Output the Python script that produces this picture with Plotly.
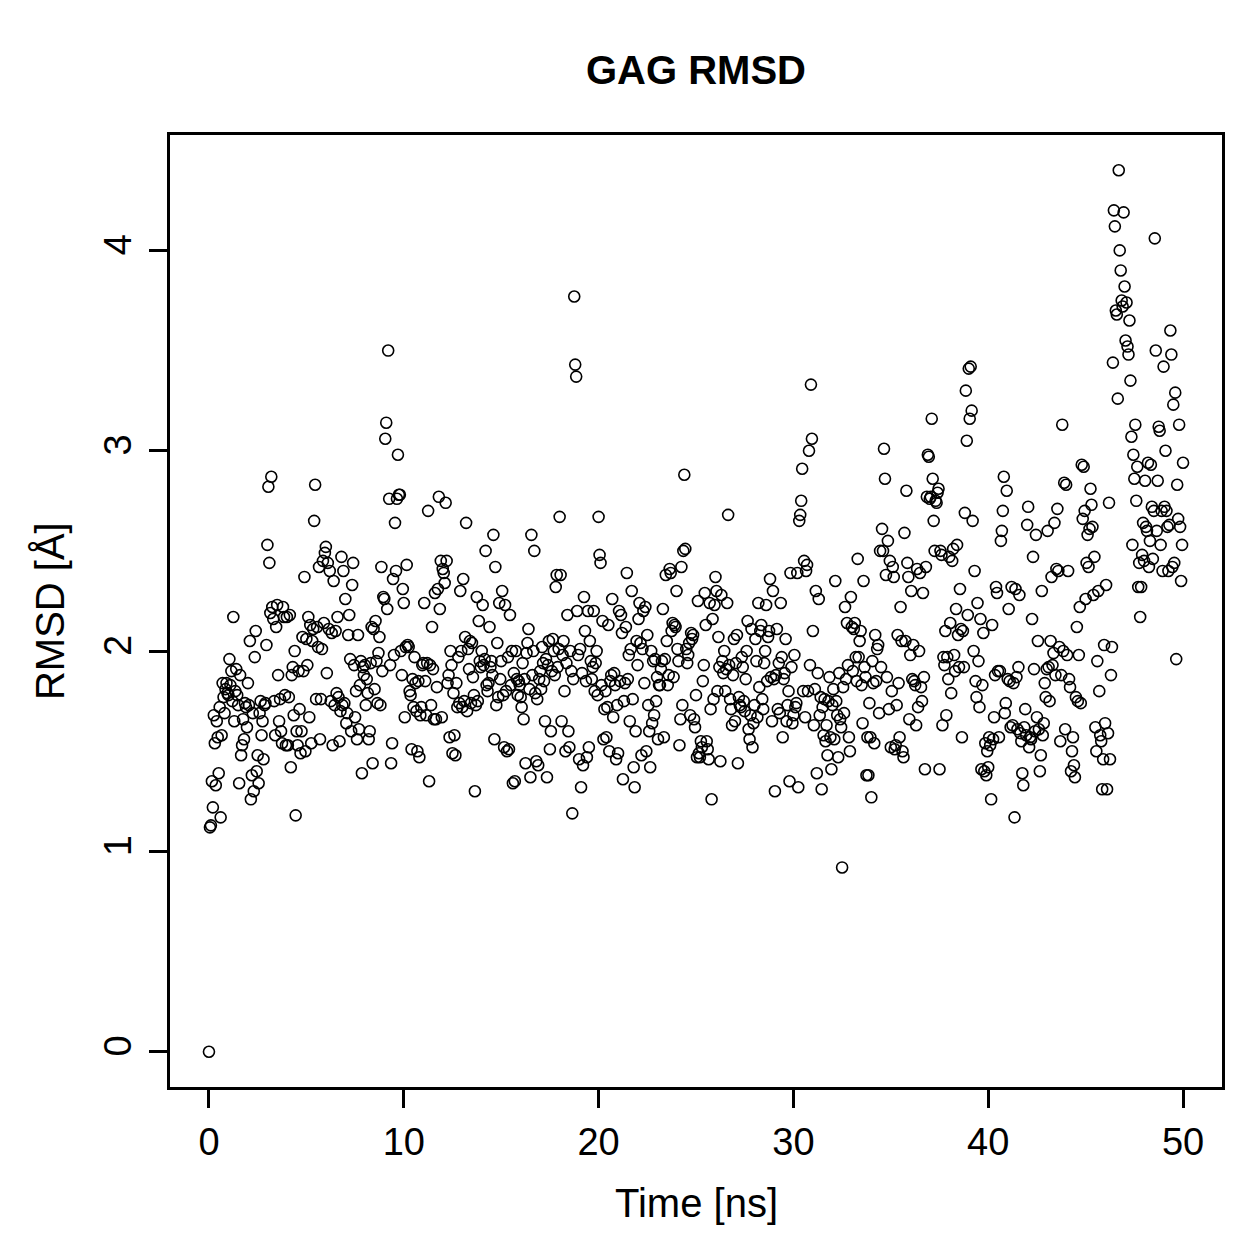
import plotly.graph_objects as go

# RMSD values (Å), one frame every 0.05 ns, rows = 1 ns each (20 frames)
rmsd = [
    0.00, 1.12, 1.13, 1.35, 1.22, 1.68, 1.54, 1.33, 1.65, 1.57, 1.39, 1.72, 1.17, 1.58, 1.84, 1.77, 1.69, 1.81, 1.84, 1.79,
    1.78, 1.96, 1.83, 1.90, 1.75, 2.17, 1.65, 1.80, 1.91, 1.78, 1.73, 1.34, 1.88, 1.48, 1.53, 1.66, 1.56, 1.74, 1.72, 1.62,
    1.84, 1.73, 2.05, 1.26, 1.38, 1.69, 1.30, 1.97, 2.10, 1.40, 1.48, 1.34, 1.69, 1.75, 1.58, 1.65, 1.46, 1.73, 1.74, 2.03,
    2.53, 2.82, 2.44, 2.19, 2.87, 2.22, 2.16, 1.75, 1.58, 2.12, 2.23, 1.88, 1.65, 1.76, 1.60, 1.54, 2.22, 2.17, 1.78, 1.53,
    2.17, 1.53, 1.77, 2.18, 1.42, 1.88, 1.92, 1.68, 2.00, 1.18, 1.60, 1.53, 1.90, 1.71, 1.49, 1.60, 2.07, 1.90, 2.37, 1.50,
    2.06, 1.93, 2.17, 1.67, 2.13, 1.54, 2.05, 2.11, 2.65, 2.83, 1.76, 2.12, 2.02, 2.42, 1.56, 1.76, 2.01, 2.45, 2.14, 2.49,
    2.52, 1.89, 2.44, 2.11, 2.40, 1.75, 2.09, 1.53, 2.35, 1.73, 2.10, 1.79, 2.17, 1.77, 1.55, 1.70, 2.47, 1.73, 2.40, 1.74,
    2.26, 1.64, 1.69, 2.08, 2.18, 1.96, 1.60, 2.33, 2.44, 1.93, 1.67, 1.80, 1.56, 2.08, 1.61, 1.83, 1.95, 1.39, 1.92, 1.88,
    1.93, 1.73, 1.86, 1.79, 1.56, 1.60, 1.94, 2.12, 1.44, 2.11, 1.81, 2.15, 1.95, 1.74, 1.99, 2.07, 1.73, 2.42, 1.90, 2.27,
    2.26, 3.06, 3.14, 2.21, 3.50, 2.76, 1.93, 1.44, 1.54, 2.36, 1.98, 2.64, 2.40, 2.76, 2.98, 2.78, 2.78, 2.00, 1.88, 2.31,
    2.24, 1.67, 2.02, 2.43, 2.03, 2.02, 1.80, 1.78, 1.51, 1.86, 1.72, 1.97, 1.84, 1.70, 1.50, 1.85, 1.47, 1.68, 1.72, 1.93,
    1.94, 2.24, 1.85, 1.68, 1.94, 2.70, 1.35, 1.93, 1.73, 2.12, 1.91, 1.66, 2.29, 1.66, 1.82, 2.31, 2.77, 2.21, 2.45, 1.67,
    2.41, 2.39, 2.34, 2.74, 2.45, 1.84, 1.88, 1.57, 2.00, 1.93, 1.49, 1.79, 1.58, 1.48, 1.84, 1.72, 1.97, 1.74, 2.30, 2.00,
    1.72, 2.36, 1.75, 2.07, 2.64, 1.70, 2.01, 1.91, 2.05, 1.74, 2.04, 1.87, 1.78, 1.30, 1.73, 2.27, 1.75, 2.15, 1.95, 1.92,
    2.00, 2.23, 1.93, 1.96, 2.50, 1.83, 1.80, 1.84, 2.12, 1.92, 1.95, 1.88, 2.58, 1.56, 2.42, 1.73, 2.04, 1.77, 2.24, 1.86,
    1.95, 2.30, 1.78, 1.52, 2.23, 1.80, 1.50, 1.97, 1.51, 2.18, 1.83, 2.00, 1.34, 1.89, 1.35, 2.00, 1.86, 1.78, 1.85, 1.83,
    1.77, 1.72, 1.94, 1.66, 1.86, 1.44, 1.99, 2.04, 2.11, 1.81, 1.37, 2.58, 1.88, 2.00, 2.50, 1.79, 1.45, 1.76, 1.43, 1.86,
    1.90, 1.81, 2.02, 1.94, 1.85, 1.65, 1.96, 1.37, 1.93, 2.05, 1.51, 1.60, 1.90, 2.06, 2.00, 1.88, 2.32, 2.38, 1.92, 2.01,
    2.67, 2.38, 1.65, 1.98, 2.05, 1.80, 1.50, 1.94, 2.18, 1.60, 1.52, 2.00, 1.90, 1.19, 1.86, 3.77, 3.43, 3.37, 2.20, 1.98,
    1.46, 2.01, 1.32, 1.89, 1.43, 2.27, 2.10, 1.85, 1.47, 2.20, 1.52, 2.05, 1.95, 1.86, 1.92, 2.20, 1.80, 1.94, 2.00, 1.78,
    2.67, 2.48, 2.44, 1.83, 2.15, 1.56, 1.71, 1.80, 1.57, 1.72, 2.13, 1.50, 1.85, 1.88, 2.26, 1.67, 1.89, 1.83, 1.46, 1.73,
    1.49, 2.20, 1.85, 2.18, 2.09, 1.36, 1.75, 1.84, 2.12, 2.39, 1.86, 1.98, 1.65, 2.01, 2.30, 1.76, 1.42, 1.32, 1.60, 2.05,
    1.93, 2.16, 2.24, 2.04, 1.48, 2.01, 2.20, 1.84, 2.22, 1.50, 2.08, 1.73, 1.60, 1.42, 2.00, 1.64, 1.95, 1.68, 1.96, 1.75,
    1.87, 1.56, 1.83, 1.83, 1.91, 1.95, 2.21, 1.57, 1.96, 2.38, 2.05, 1.83, 1.88, 2.41, 2.39, 2.10, 2.14, 1.87, 2.13, 2.12,
    2.30, 2.01, 1.95, 1.53, 1.66, 2.42, 1.73, 2.50, 2.88, 2.51, 2.01, 1.94, 1.98, 2.04, 1.68, 2.09, 2.06, 2.08, 1.66, 1.62,
    1.78, 1.47, 2.25, 1.49, 1.47, 1.55, 1.52, 1.85, 1.93, 2.29, 2.13, 1.55, 1.51, 1.46, 2.24, 1.71, 1.26, 2.16, 1.76, 2.23,
    2.37, 2.30, 1.80, 2.07, 1.92, 1.45, 2.28, 1.95, 1.89, 2.00, 1.80, 1.91, 2.24, 2.68, 1.93, 1.76, 1.71, 1.63, 1.88, 2.06,
    1.65, 1.94, 2.08, 1.44, 1.77, 1.73, 1.72, 1.97, 1.92, 1.75, 1.70, 1.86, 2.00, 2.15, 1.61, 1.56, 1.68, 2.11, 1.52, 1.64,
    1.73, 2.06, 1.95, 1.67, 2.24, 1.82, 2.10, 2.13, 1.76, 1.71, 1.94, 2.00, 2.23, 1.85, 2.07, 2.10, 2.36, 1.87, 1.65, 2.30,
    1.86, 1.30, 1.88, 2.11, 1.71, 1.94, 1.69, 2.24, 1.97, 1.57, 1.86, 1.89, 2.06, 1.65, 1.73, 1.80, 1.35, 2.39, 1.92, 1.64,
    1.68, 1.98, 1.72, 1.74, 2.39, 1.32, 2.65, 2.68, 2.75, 2.91, 1.80, 2.45, 1.67, 2.40, 2.43, 1.80, 3.00, 1.93, 3.33, 3.06,
    2.10, 1.63, 1.81, 2.30, 1.39, 1.89, 2.26, 1.68, 1.77, 1.31, 1.72, 1.58, 1.76, 1.55, 1.63, 1.48, 1.75, 1.87, 1.57, 1.41,
    1.73, 1.81, 1.56, 2.35, 1.75, 1.68, 1.47, 1.89, 1.66, 1.62, 0.92, 1.82, 1.69, 2.22, 1.86, 2.14, 1.93, 1.57, 1.50, 2.27,
    2.12, 1.90, 2.11, 2.14, 1.97, 1.85, 2.46, 1.97, 2.05, 2.10, 1.83, 1.64, 2.35, 1.92, 1.87, 1.38, 1.57, 1.38, 1.74, 1.57,
    1.27, 1.95, 1.84, 1.54, 2.08, 1.85, 2.01, 2.03, 1.69, 2.50, 1.92, 2.61, 2.50, 3.01, 2.86, 2.38, 1.87, 2.55, 1.71, 2.45,
    1.52, 1.80, 2.42, 2.37, 1.51, 1.53, 1.73, 2.08, 1.84, 1.57, 2.22, 2.05, 1.50, 1.47, 2.59, 2.05, 2.80, 2.44, 2.37, 1.66,
    1.98, 2.30, 1.86, 2.03, 1.85, 1.83, 1.63, 2.41, 1.72, 2.00, 2.39, 1.82, 1.75, 2.29, 1.87, 1.41, 2.42, 2.77, 2.98, 2.97,
    2.76, 2.77, 3.16, 2.86, 2.65, 2.50, 2.75, 2.74, 2.79, 2.81, 1.41, 2.50, 2.48, 1.63, 1.97, 1.93, 2.10, 1.68, 1.97, 1.86,
    2.47, 2.14, 1.79, 2.45, 2.51, 1.98, 1.90, 2.21, 2.53, 2.08, 1.92, 2.31, 2.11, 1.57, 2.10, 1.92, 2.69, 3.30, 3.05, 2.18,
    3.41, 3.16, 3.42, 3.20, 2.65, 2.00, 2.40, 1.85, 1.77, 2.24, 1.95, 1.72, 2.16, 1.41, 1.83, 2.09, 1.40, 1.54, 1.38, 1.50,
    1.42, 1.57, 1.53, 1.26, 2.13, 1.56, 1.67, 1.88, 2.32, 2.29, 1.90, 1.57, 1.90, 2.55, 2.60, 2.70, 2.87, 1.69, 1.74, 2.80,
    1.86, 2.21, 1.85, 1.62, 2.32, 1.63, 1.84, 1.17, 2.31, 1.87, 1.61, 1.92, 2.28, 1.59, 1.55, 1.39, 1.33, 1.62, 1.71, 1.58,
    2.63, 2.72, 1.52, 1.57, 1.56, 2.16, 2.47, 1.91, 1.60, 2.58, 1.67, 2.05, 1.61, 1.40, 1.48, 2.30, 1.58, 1.64, 1.84, 1.77,
    1.91, 2.60, 1.92, 1.75, 2.05, 2.37, 1.93, 1.99, 2.64, 1.88, 2.41, 2.71, 2.40, 2.02, 1.55, 1.88, 3.13, 2.00, 2.84, 1.61,
    2.83, 1.98, 2.40, 1.86, 1.82, 1.40, 1.50, 1.57, 1.43, 1.37, 1.77, 2.12, 1.75, 1.98, 2.22, 1.74, 2.93, 2.66, 2.92, 2.70,
    2.26, 2.44, 2.58, 2.42, 2.61, 2.81, 2.73, 2.62, 2.28, 2.47, 1.62, 1.50, 1.95, 2.30, 1.80, 1.58, 1.55, 1.31, 1.46, 2.03,
    1.64, 2.33, 1.31, 1.59, 2.74, 1.46, 1.88, 2.02, 3.44, 4.20, 4.12, 3.70, 3.68, 3.26, 4.40, 4.00, 3.90, 3.75, 3.72, 4.19,
    3.82, 3.55, 3.74, 3.52, 3.48, 3.65, 3.35, 3.07, 2.53, 2.98, 2.86, 3.13, 2.75, 2.92, 2.32, 2.44, 2.17, 2.32, 2.48, 2.64,
    2.45, 2.85, 2.62, 2.60, 2.94, 2.42, 2.55, 2.93, 2.72, 2.46, 2.70, 4.06, 3.50, 2.60, 2.85, 3.12, 3.10, 2.53, 2.70, 2.40,
    3.42, 2.72, 3.00, 2.70, 2.62, 2.40, 2.63, 3.60, 3.48, 2.42, 3.23, 2.44, 3.29, 1.96, 2.83, 2.66, 3.13, 2.62, 2.35, 2.53,
    2.94,
]

frame_step_ns = 0.05
time_ns = [i * frame_step_ns for i in range(len(rmsd))]

x_ticks = [0, 10, 20, 30, 40, 50]
y_ticks = [0, 1, 2, 3, 4]

title_text = "GAG RMSD"
x_label = "Time [ns]"
y_label = "RMSD [Å]"

FONT = "Liberation Sans, Arial, Helvetica, sans-serif"

# R-style 4% axis extension
xmin, xmax = min(time_ns), max(time_ns)
ymin, ymax = min(rmsd), max(rmsd)
xpad = (xmax - xmin) * 0.04
ypad = (ymax - ymin) * 0.04

fig = go.Figure()
fig.add_trace(go.Scatter(
    x=time_ns, y=rmsd, mode="markers",
    marker=dict(symbol="circle-open", size=11, color="black",
                line=dict(color="black", width=1.6)),
    hoverinfo="x+y", showlegend=False,
))

axis_common = dict(
    showgrid=False, zeroline=False, showline=True, mirror=True,
    linecolor="black", linewidth=2.6,
    ticks="outside", ticklen=18, tickwidth=2.6, tickcolor="black",
    tickfont=dict(family=FONT, size=38, color="black"),
)

fig.update_xaxes(range=[xmin - xpad, xmax + xpad], tickvals=x_ticks,
                 ticktext=[str(v) for v in x_ticks], ticklabelstandoff=2,
                 **axis_common)
fig.update_yaxes(range=[ymin - ypad, ymax + ypad], tickvals=y_ticks,
                 ticktext=[str(v) for v in y_ticks], tickangle=-90,
                 ticklabelstandoff=3, **axis_common)

fig.update_layout(
    width=1259, height=1259,
    margin=dict(l=170, r=37, t=135, b=172),
    plot_bgcolor="white", paper_bgcolor="white",
    font=dict(family=FONT, color="black"),
    annotations=[
        dict(text=f"<b>{title_text}</b>", x=0.5, y=1.068, xref="paper", yref="paper",
             xanchor="center", yanchor="middle", showarrow=False,
             font=dict(family=FONT, size=40, color="black")),
        dict(text=x_label, x=0.5, y=-0.1218, xref="paper", yref="paper",
             xanchor="center", yanchor="middle", showarrow=False,
             font=dict(family=FONT, size=40, color="black")),
        dict(text=y_label, x=-0.114, y=0.5, xref="paper", yref="paper",
             xanchor="center", yanchor="middle", showarrow=False, textangle=-90,
             font=dict(family=FONT, size=40, color="black")),
    ],
)

fig.write_html("out.html")
